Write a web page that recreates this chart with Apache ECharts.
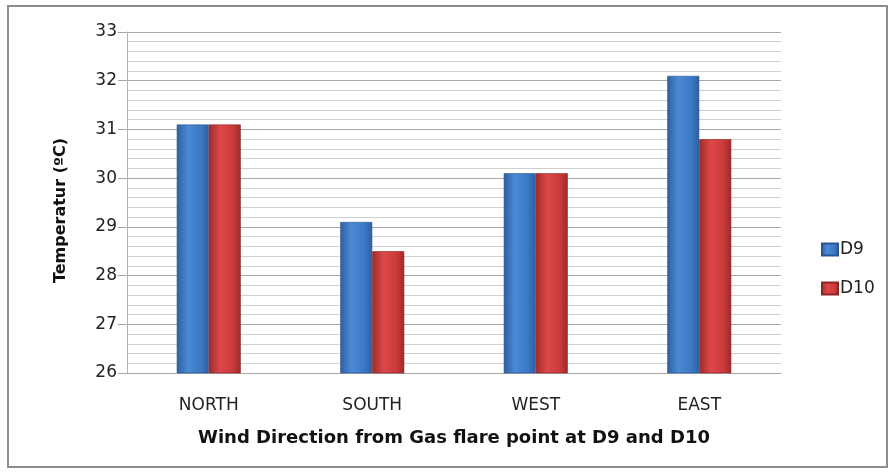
<!DOCTYPE html>
<html>
<head>
<meta charset="utf-8">
<script src="https://cdn.jsdelivr.net/npm/echarts@6/dist/echarts.min.js"></script>
<style>
  html, body { margin: 0; padding: 0; background: #fff; }
  #chart { width: 896px; height: 474px; }
</style>
</head>
<body>
<div id="chart"></div>
<script>
// Temperature readings by wind direction relative to the gas flare point
const directions = ['NORTH', 'SOUTH', 'WEST', 'EAST'];
const d9Values = [31.1, 29.1, 30.1, 32.1];
const d10Values = [31.1, 28.5, 30.1, 30.8];
const seriesNames = ['D9', 'D10'];
const yMin = 26, yMax = 33, yStep = 1;

const FONT = '"DejaVu Sans", "Open Sans", sans-serif';

function barFill(dark, mid, light) {
  return new echarts.graphic.LinearGradient(0, 0, 1, 0, [
    { offset: 0, color: dark },
    { offset: 0.35, color: light },
    { offset: 0.75, color: mid },
    { offset: 1, color: dark }
  ]);
}

const blueFill = barFill('#2f5f9e', '#3c78c4', '#4a8ad6');
const redFill = barFill('#9e2a2a', '#cc3b3b', '#dc4848');

const chart = echarts.init(document.getElementById('chart'), null, { renderer: 'canvas' });

chart.setOption({
  backgroundColor: '#ffffff',
  animation: false,
  graphic: [{
    type: 'rect',
    shape: { x: 8, y: 6, width: 879, height: 461 },
    style: { fill: 'none', stroke: '#8c8c8c', lineWidth: 2 },
    z: -1
  }],
  grid: { left: 127, right: 115, top: 32, bottom: 101 },
  legend: {
    orient: 'vertical',
    left: 816,
    top: 236,
    itemWidth: 16,
    itemHeight: 12,
    itemGap: 22,
    icon: 'rect',
    textStyle: { fontFamily: FONT, fontSize: 17, color: '#222', padding: [0, 0, 0, -3] },
    data: seriesNames
  },
  xAxis: {
    type: 'category',
    data: directions,
    name: 'Wind Direction from Gas flare point at D9 and D10',
    nameLocation: 'middle',
    nameGap: 56,
    nameTextStyle: { fontFamily: FONT, fontSize: 18, fontWeight: 'bold', color: '#111' },
    axisLine: { lineStyle: { color: '#a6a6a6', width: 1 } },
    axisTick: { show: false },
    axisLabel: { fontFamily: FONT, fontSize: 17, color: '#222', margin: 24 }
  },
  yAxis: {
    type: 'value',
    min: yMin,
    max: yMax,
    interval: yStep,
    name: 'Temperatur (ºC)',
    nameLocation: 'middle',
    nameGap: 58,
    nameTextStyle: { fontFamily: FONT, fontSize: 16, fontWeight: 'bold', color: '#111', padding: [0, 16, 0, 0] },
    axisLine: { show: true, lineStyle: { color: '#b3b3b3', width: 1 } },
    axisTick: { show: true, length: 9, lineStyle: { color: '#a6a6a6' } },
    axisLabel: { fontFamily: FONT, fontSize: 17, color: '#222', margin: 10 },
    splitLine: { show: true, lineStyle: { color: '#a8a8a8', width: 1.2 } },
    minorTick: { show: false, splitNumber: 5 },
    minorSplitLine: { show: true, lineStyle: { color: '#d0d0d0', width: 1.2 } }
  },
  series: [
    {
      name: seriesNames[0],
      type: 'bar',
      data: d9Values,
      barWidth: 32,
      barGap: '0%',
      itemStyle: { color: blueFill, borderColor: '#2a5590', borderWidth: 0.6 }
    },
    {
      name: seriesNames[1],
      type: 'bar',
      data: d10Values,
      barWidth: 32,
      barGap: '0%',
      itemStyle: { color: redFill, borderColor: '#8e2424', borderWidth: 0.6 }
    }
  ]
});
</script>
</body>
</html>
